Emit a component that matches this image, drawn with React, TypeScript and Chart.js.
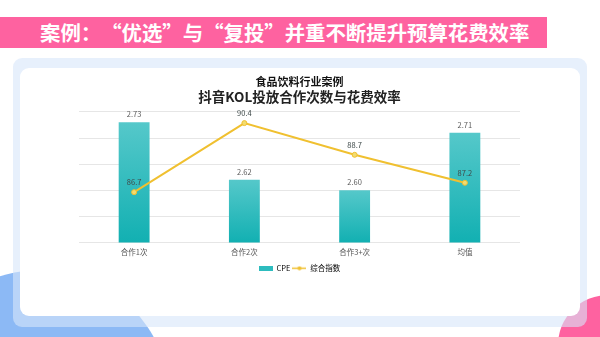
import React, { useEffect, useRef } from "react";
import { Chart, registerables } from "chart.js";

Chart.register(...registerables);

const categories = ["合作1次", "合作2次", "合作3+次", "均值"];
const cpeValues = [2.73, 2.62, 2.6, 2.71];
const indexValues = [86.7, 90.4, 88.7, 87.2];
const seriesNames = ["CPE", "综合指数"];
const chartTitle = "食品饮料行业案例";
const chartSubtitle = "抖音KOL投放合作次数与花费效率";
const pageTitle = "案例：“优选”与“复投”并重不断提升预算花费效率";

const FONT = "'Noto Sans CJK SC', 'Noto Sans', sans-serif";
const LINE_COLOR = "#f0c030";
const POINT_FILL = "#f3dc70";

function makeLegendIcon(kind: "bar" | "line"): HTMLCanvasElement {
  const c = document.createElement("canvas");
  c.width = 14;
  c.height = 5;
  const g = c.getContext("2d")!;
  if (kind === "bar") {
    g.fillStyle = "#2dbcbe";
    g.fillRect(0, 0, 14, 5);
  } else {
    g.strokeStyle = LINE_COLOR;
    g.lineWidth = 1.5;
    g.beginPath();
    g.moveTo(0, 2.5);
    g.lineTo(14, 2.5);
    g.stroke();
    g.fillStyle = "#f0c030";
    g.beginPath();
    g.arc(7, 2.5, 2, 0, Math.PI * 2);
    g.fill();
  }
  return c;
}

const valueLabels = {
  id: "valueLabels",
  afterDatasetsDraw(chart: any) {
    const ctx = chart.ctx;
    ctx.save();
    ctx.textAlign = "center";
    ctx.textBaseline = "middle";
    ctx.font = `7.5px ${FONT}`;
    chart.data.datasets.forEach((ds: any, di: number) => {
      const meta = chart.getDatasetMeta(di);
      meta.data.forEach((el: any, i: number) => {
        const v = ds.data[i];
        if (ds.type === "line") {
          ctx.fillStyle = "#3f4a4a";
          ctx.fillText(v.toFixed(1), el.x, el.y - 10);
        } else {
          ctx.fillStyle = "#5a5a5a";
          ctx.fillText(v.toFixed(2), el.x, el.y - 8);
        }
      });
    });
    ctx.restore();
  },
};

function ChartBox() {
  const ref = useRef<HTMLCanvasElement>(null);
  useEffect(() => {
    const barIcon = makeLegendIcon("bar");
    const lineIcon = makeLegendIcon("line");
    const chart = new Chart(ref.current!, {
      data: {
        labels: categories,
        datasets: [
          {
            type: "bar",
            label: seriesNames[0],
            data: cpeValues,
            yAxisID: "y",
            order: 2,
            barPercentage: 0.56,
            categoryPercentage: 0.5,
            backgroundColor: (c: any) => {
              const chart = c.chart;
              const area = chart.chartArea;
              if (!area || c.raw === undefined) return "#2dbcbe";
              const top = chart.scales.y.getPixelForValue(c.raw);
              const g = chart.ctx.createLinearGradient(0, top, 0, area.bottom);
              g.addColorStop(0, "#55c8ca");
              g.addColorStop(1, "#12b0b2");
              return g;
            },
          } as any,
          {
            type: "line",
            label: seriesNames[1],
            data: indexValues,
            yAxisID: "y1",
            order: 1,
            borderColor: LINE_COLOR,
            borderWidth: 2,
            pointRadius: 2.5,
            pointBackgroundColor: POINT_FILL,
            pointBorderColor: LINE_COLOR,
            pointBorderWidth: 1,
            tension: 0,
          } as any,
        ],
      },
      options: {
        animation: false,
        responsive: false,
        maintainAspectRatio: false,
        layout: { padding: { left: 59, right: 60, top: 7.5, bottom: 34 } },
        plugins: {
          title: {
            display: true,
            text: chartTitle,
            color: "#111",
            font: { family: FONT, size: 11, weight: "bold" },
            padding: { top: 0, bottom: 0 },
          },
          subtitle: {
            display: true,
            text: chartSubtitle,
            color: "#222",
            font: { family: FONT, size: 13.5, weight: "bold" },
            padding: { top: 0, bottom: 7 },
          },
          legend: {
            display: true,
            position: "bottom",
            labels: {
              usePointStyle: true,
              pointStyleWidth: 14,
              boxHeight: 5,
              color: "#555",
              font: { family: FONT, size: 7.5 },
              padding: 2,
              generateLabels: () => [
                { text: seriesNames[0], pointStyle: barIcon, fillStyle: "#2dbcbe", strokeStyle: "transparent", lineWidth: 0, hidden: false, datasetIndex: 0 },
                { text: seriesNames[1], pointStyle: lineIcon, fillStyle: LINE_COLOR, strokeStyle: "transparent", lineWidth: 0, hidden: false, datasetIndex: 1 },
              ] as any,
            },
          },
          tooltip: { enabled: false },
        },
        scales: {
          x: {
            grid: { display: false, drawTicks: false },
            border: { display: false },
            ticks: { color: "#555", font: { family: FONT, size: 7.5 }, padding: 5.5 },
          },
          y: {
            position: "left",
            min: 2.5,
            max: 2.75,
            ticks: { display: false, stepSize: 0.05 },
            grid: { color: "#e6e6e6", lineWidth: 1, drawTicks: false },
            border: { display: false },
          },
          y1: {
            position: "right",
            display: false,
            min: 84,
            max: 91,
          },
        },
      } as any,
      plugins: [valueLabels],
    });
    return () => chart.destroy();
  }, []);
  return <canvas ref={ref} width={560} height={248} style={{ position: "absolute", left: 20, top: 68, width: 560, height: 248 }} />;
}

function PageTitle({ text }: { text: string }) {
  const parts = Array.from(text);
  return (
    <>
      {parts.map((ch, i) => {
        if (ch === "“" || ch === "”") {
          return (
            <span key={i} style={{ display: "inline-block", width: "1em", textAlign: ch === "“" ? "right" : "left" }}>
              {ch}
            </span>
          );
        }
        return <span key={i}>{ch}</span>;
      })}
    </>
  );
}

export default function App() {
  return (
    <div style={{ position: "fixed", left: 0, top: 0, width: 600, height: 337, overflow: "hidden", background: "#fff", fontFamily: FONT }}>
      <div style={{ position: "absolute", left: -90, top: 270, width: 260, height: 260, borderRadius: "50%", background: "#8cb9f5" }} />
      <div style={{ position: "absolute", left: 558, top: 295, width: 100, height: 100, borderRadius: "50%", background: "#fe62a0" }} />
      <div style={{ position: "absolute", left: 0, top: 17, width: 547, height: 31, background: "#fe62a0" }} />
      <div style={{ position: "absolute", left: 40, top: 17, height: 31, lineHeight: "31px", color: "#fff", fontWeight: "bold", fontSize: 20.4, whiteSpace: "pre" }}>
        <PageTitle text={pageTitle} />
      </div>
      <div style={{ position: "absolute", left: 13, top: 58, width: 574, height: 269, borderRadius: 9, background: "rgba(215,230,250,0.6)" }} />
      <div style={{ position: "absolute", left: 20, top: 68, width: 560, height: 248, borderRadius: 9, background: "#fff" }} />
      <ChartBox />
    </div>
  );
}
